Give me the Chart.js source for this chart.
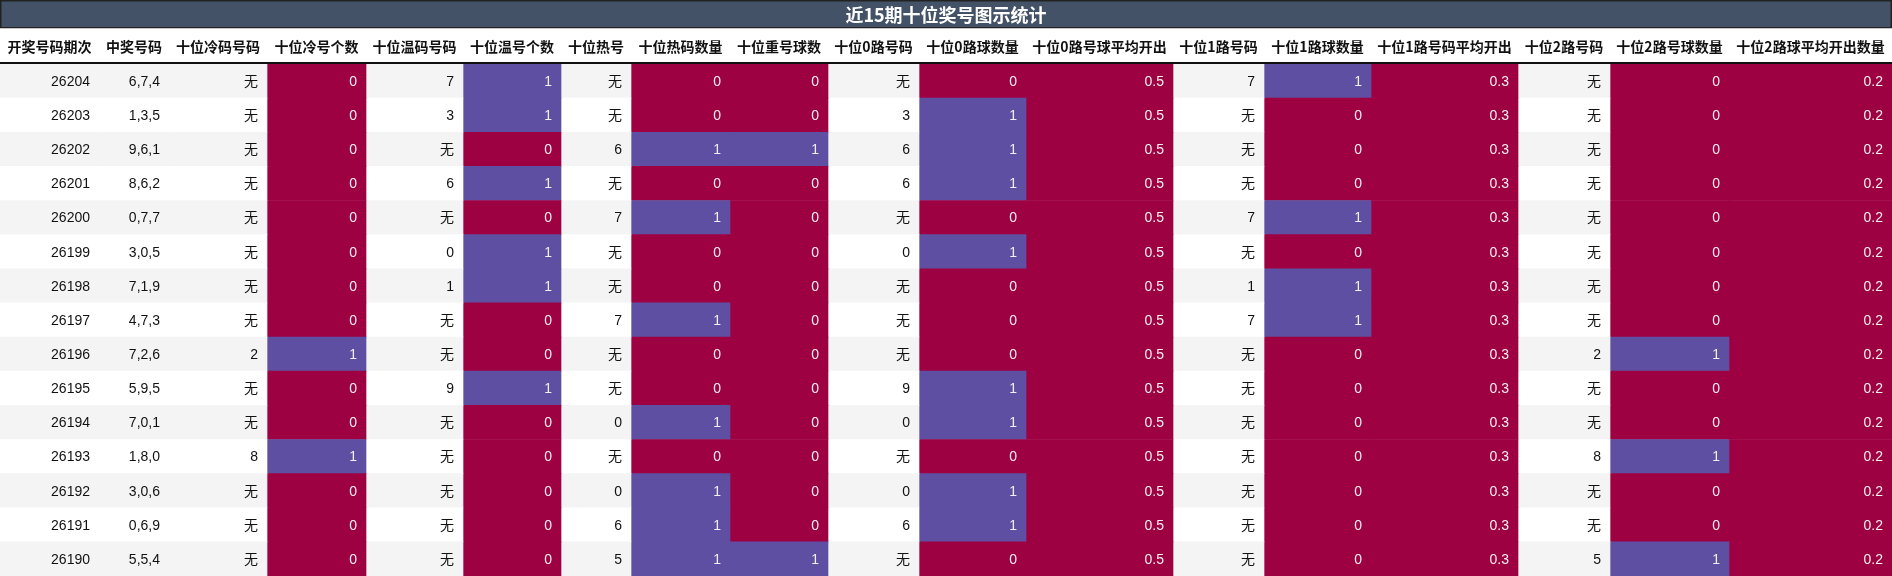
<!DOCTYPE html>
<html><head><meta charset="utf-8">
<script src="https://cdn.jsdelivr.net/npm/chart.js@4/dist/chart.umd.min.js"></script>
<style>html,body{margin:0;padding:0;background:#fff}#w{width:1892px;height:576px}</style>
</head><body><div id="w"><canvas id="c" width="1892" height="576"></canvas></div>
<script>
const title = '近15期十位奖号图示统计';
const headers = ['开奖号码期次','中奖号码','十位冷码号码','十位冷号个数','十位温码号码','十位温号个数','十位热号','十位热码数量','十位重号球数','十位0路号码','十位0路球数量','十位0路号球平均开出','十位1路号码','十位1路球数量','十位1路号码平均开出','十位2路号码','十位2路号球数量','十位2路球平均开出数量'];
const periods = ['26204','26203','26202','26201','26200','26199','26198','26197','26196','26195','26194','26193','26192','26191','26190'];
const winNums = ['6,7,4','1,3,5','9,6,1','8,6,2','0,7,7','3,0,5','7,1,9','4,7,3','7,2,6','5,9,5','7,0,1','1,8,0','3,0,6','0,6,9','5,5,4'];
const coldNum = ['无','无','无','无','无','无','无','无','2','无','无','8','无','无','无'];
const coldCnt = [0,0,0,0,0,0,0,0,1,0,0,1,0,0,0];
const warmNum = ['7','3','无','6','无','0','1','无','无','9','无','无','无','无','无'];
const warmCnt = [1,1,0,1,0,1,1,0,0,1,0,0,0,0,0];
const hotNum = ['无','无','6','无','7','无','无','7','无','无','0','无','0','6','5'];
const hotCnt = [0,0,1,0,1,0,0,1,0,0,1,0,1,1,1];
const repeatCnt = [0,0,1,0,0,0,0,0,0,0,0,0,0,0,1];
const r0Num = ['无','3','6','6','无','0','无','无','无','9','0','无','0','6','无'];
const r0Cnt = [0,1,1,1,0,1,0,0,0,1,1,0,1,1,0];
const r0Avg = Array(15).fill(0.5);
const r1Num = ['7','无','无','无','7','无','1','7','无','无','无','无','无','无','无'];
const r1Cnt = [1,0,0,0,1,0,1,1,0,0,0,0,0,0,0];
const r1Avg = Array(15).fill(0.3);
const r2Num = ['无','无','无','无','无','无','无','无','2','无','无','8','无','无','5'];
const r2Cnt = [0,0,0,0,0,0,0,0,1,0,0,1,0,0,1];
const r2Avg = Array(15).fill(0.2);

const columns = [periods,winNums,coldNum,coldCnt,warmNum,warmCnt,hotNum,hotCnt,repeatCnt,r0Num,r0Cnt,r0Avg,r1Num,r1Cnt,r1Avg,r2Num,r2Cnt,r2Avg];
const colKind = ['t','t','t','c','t','c','t','c','c','t','c','a','t','c','a','t','c','a'];
const edges = [0,99,169,267,366,463,561,631,730,828,919,1026,1173,1264,1371,1518,1610,1729,1892];

const PURPLE='#5e4fa2', RED='#9e0142';
function cellColor(k,v,i){ if(k==='c') return v===1?PURPLE:RED; if(k==='a') return RED; return i%2===0?'#f4f4f4':'#ffffff'; }

const datasets = columns.map((col,ci)=>({
  label: headers[ci],
  data: col.map(()=>[edges[ci],edges[ci+1]]),
  backgroundColor: col.map((v,i)=>cellColor(colKind[ci],v,i)),
  borderWidth:0, barPercentage:1, categoryPercentage:1, grouped:false
}));

const tablePlugin = {
  id:'tbl',
  afterDatasetsDraw(chart){
    const ctx=chart.ctx; ctx.save();
    ctx.font='14px "Liberation Sans","Noto Sans CJK SC",sans-serif';
    ctx.textAlign='right'; ctx.textBaseline='middle';
    chart.data.datasets.forEach((ds,ci)=>{
      const meta=chart.getDatasetMeta(ci);
      meta.data.forEach((el,i)=>{
        const v=columns[ci][i];
        ctx.fillStyle = colKind[ci]==='t' ? '#111' : '#f0f0f0';
        ctx.fillText(String(v), Math.max(el.x,el.base)-9, el.y+1);
      });
    });
    ctx.restore();
  },
  afterDraw(chart){
    const ctx=chart.ctx, xs=chart.scales.x; ctx.save();
    ctx.fillStyle='#435266'; ctx.fillRect(0,0,1892,28);
    ctx.strokeStyle='#222'; ctx.lineWidth=1.5; ctx.strokeRect(0.75,0.75,1890.5,27);
    ctx.fillStyle='#fff'; ctx.font='bold 18px "Noto Sans CJK SC",sans-serif';
    ctx.textAlign='center'; ctx.textBaseline='middle'; ctx.fillText(title,946,15);
    ctx.fillStyle='#fff'; ctx.fillRect(0,28.5,1892,34);
    ctx.fillStyle='#111'; ctx.font='bold 14px "Noto Sans CJK SC",sans-serif';
    headers.forEach((h,ci)=>{
      const a=xs.getPixelForValue(edges[ci]), b=xs.getPixelForValue(edges[ci+1]);
      ctx.fillText(h,(a+b)/2,47);
    });
    ctx.fillStyle='#111'; ctx.fillRect(0,62,1892,2);
    ctx.restore();
  }
};

new Chart(document.getElementById('c'),{
  type:'bar',
  data:{labels:periods,datasets},
  options:{
    indexAxis:'y', responsive:false, animation:false, devicePixelRatio:1,
    layout:{padding:{top:64,left:0,right:0,bottom:0}},
    plugins:{legend:{display:false},tooltip:{enabled:false}},
    scales:{
      x:{type:'linear',min:0,max:1892,display:false},
      y:{type:'category',display:false,offset:true}
    }
  },
  plugins:[tablePlugin]
});
</script></body></html>
